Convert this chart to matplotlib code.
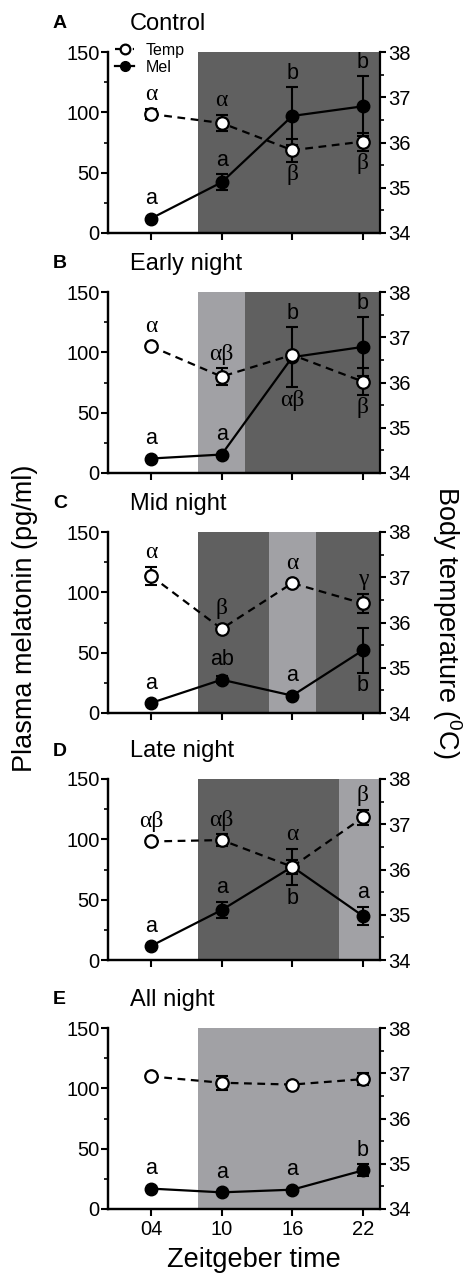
import matplotlib.pyplot as plt
from matplotlib.lines import Line2D

plt.rcParams['font.family'] = ['Liberation Sans', 'DejaVu Sans']
plt.rcParams['mathtext.fontset'] = 'custom'
plt.rcParams['mathtext.rm'] = 'Liberation Sans'

# --- data ---
zt = [4, 10, 16, 22]
zt_labels = ['04', '10', '16', '22']
tags = ['A', 'B', 'C', 'D', 'E']
titles = ['Control', 'Early night', 'Mid night', 'Late night', 'All night']

mel_A = [12, 42, 97, 105]
mel_A_err = [0, 6.6, 24, 25]
temp_A = [36.63, 36.43, 35.83, 36.02]
temp_A_err = [0.12, 0.18, 0.25, 0.2]

mel_B = [12, 15.3, 96, 104.5]
mel_B_err = [0, 0, 25, 24.5]
temp_B = [36.8, 36.13, 36.61, 36.02]
temp_B_err = [0, 0.19, 0, 0.29]

mel_C = [8.3, 27.6, 14.4, 52]
mel_C_err = [0, 3, 0, 18.6]
temp_C = [37.03, 35.86, 36.87, 36.42]
temp_C_err = [0.2, 0, 0, 0.22]

mel_D = [11.6, 41.4, 77.3, 36.5]
mel_D_err = [0, 6.9, 15, 7.6]
temp_D = [36.62, 36.65, 36.06, 37.15]
temp_D_err = [0, 0.13, 0.15, 0.17]

mel_E = [16.9, 13.8, 16, 32]
mel_E_err = [0, 0, 0, 5]
temp_E = [36.93, 36.79, 36.75, 36.87]
temp_E_err = [0, 0.15, 0, 0.13]

# significance letters; side: u/d = above/below own point, U/D = above/below both series
mel_letters = [['a', 'a', 'b', 'b'], ['a', 'a', 'b', 'b'], ['a', 'ab', 'a', 'b'],
               ['a', 'a', 'b', 'a'], ['a', 'a', 'a', 'b']]
mel_sides = [['u', 'u', 'u', 'u'], ['u', 'u', 'u', 'u'], ['u', 'u', 'u', 'd'],
             ['u', 'u', 'd', 'u'], ['u', 'u', 'u', 'u']]
temp_letters = [['α', 'α', 'β', 'β'], ['α', 'αβ', 'αβ', 'β'], ['α', 'β', 'α', 'γ'],
                ['αβ', 'αβ', 'α', 'β'], ['', '', '', '']]
temp_sides = [['u', 'u', 'd', 'd'], ['u', 'u', 'D', 'd'], ['u', 'u', 'u', 'u'],
              ['u', 'u', 'U', 'u'], ['u', 'u', 'u', 'u']]

# shaded phases (start ZT, end ZT, kind)
shade = [[(8, 24, 'dark')],
         [(8, 12, 'light'), (12, 24, 'dark')],
         [(8, 14, 'dark'), (14, 18, 'light'), (18, 24, 'dark')],
         [(8, 20, 'dark'), (20, 24, 'light')],
         [(8, 24, 'light')]]

mel_all = [mel_A, mel_B, mel_C, mel_D, mel_E]
mel_err_all = [mel_A_err, mel_B_err, mel_C_err, mel_D_err, mel_E_err]
temp_all = [temp_A, temp_B, temp_C, temp_D, temp_E]
temp_err_all = [temp_A_err, temp_B_err, temp_C_err, temp_D_err, temp_E_err]

COLORS = {'dark': '#606060', 'light': '#a1a1a5'}
MEL_LIM = (0, 150)
TEMP_LIM = (34, 38)

W, H = 465, 1275
fig = plt.figure(figsize=(W / 100, H / 100), dpi=100)

ax_left, ax_w, ax_h = 108, 272, 181
tops = [52, 292, 532, 779, 1028]
rad_px = 6.0


def t2m(t):
    # temperature -> melatonin axis units
    return (t - TEMP_LIM[0]) / (TEMP_LIM[1] - TEMP_LIM[0]) * (MEL_LIM[1] - MEL_LIM[0])


rad_mel = rad_px * (MEL_LIM[1] - MEL_LIM[0]) / ax_h
rad_temp = rad_px * (TEMP_LIM[1] - TEMP_LIM[0]) / ax_h

for k in range(5):
    top = tops[k]
    ax = fig.add_axes([ax_left / W, 1 - (top + ax_h) / H, ax_w / W, ax_h / H])
    ax2 = ax.twinx()
    mel, mel_err = mel_all[k], mel_err_all[k]
    temp, temp_err = temp_all[k], temp_err_all[k]

    for s0, s1, kind in shade[k]:
        ax.axvspan(s0, s1, color=COLORS[kind], lw=0, zorder=0)

    ax.errorbar(zt, mel, yerr=mel_err, fmt='none', ecolor='black', elinewidth=1.5,
                capsize=4, capthick=1.5, zorder=2)
    ax.plot(zt, mel, '-o', color='black', lw=1.6, ms=9, mec='black', zorder=3)

    ax2.errorbar(zt, temp, yerr=temp_err, fmt='none', ecolor='black', elinewidth=1.5,
                 capsize=4, capthick=1.5, zorder=2)
    ax2.plot(zt, temp, 'o', color='black', ls=(0, (3.5, 2.5)), lw=1.6, ms=9,
             mfc='white', mec='black', mew=1.6, zorder=3)

    ax.set_xlim(0.35, 23.45)
    ax.set_ylim(*MEL_LIM)
    ax2.set_ylim(*TEMP_LIM)

    ax.set_xticks(zt)
    if k == 4:
        ax.set_xticklabels(zt_labels)
    else:
        ax.set_xticklabels([])
    ax.set_yticks([0, 50, 100, 150])
    ax.set_yticks([25, 75, 125], minor=True)
    ax2.set_yticks([34, 35, 36, 37, 38])
    ax2.set_yticks([34.5, 35.5, 36.5, 37.5], minor=True)

    ax.tick_params(axis='both', which='major', direction='out', length=5, width=1.5,
                   labelsize=14.5, pad=1)
    ax.tick_params(axis='x', pad=3)
    ax.tick_params(axis='y', which='minor', direction='out', length=3, width=1.2)
    ax2.tick_params(axis='y', which='major', direction='out', length=4, width=1.5,
                    labelsize=14.5, pad=2)
    ax2.tick_params(axis='y', which='minor', direction='out', length=3, width=1.2)

    for a in (ax, ax2):
        a.spines['top'].set_visible(False)
        for sp in a.spines.values():
            sp.set_linewidth(1.6)
    ax.spines['right'].set_visible(False)

    # letters
    for i in range(4):
        m_hi = mel[i] + max(mel_err[i], rad_mel)
        m_lo = mel[i] - max(mel_err[i], rad_mel)
        t_hi = t2m(temp[i] + max(temp_err[i], rad_temp))
        t_lo = t2m(temp[i] - max(temp_err[i], rad_temp))
        for lab, side, own_hi, own_lo, fam, fs in (
                (mel_letters[k][i], mel_sides[k][i], m_hi, m_lo, 'Liberation Sans', 15.5),
                (temp_letters[k][i], temp_sides[k][i], t_hi, t_lo, 'Liberation Serif', 17)):
            if not lab:
                continue
            if side == 'u':
                y, off, va = own_hi, 2.5, 'bottom'
            elif side == 'd':
                y, off, va = own_lo, -2, 'top'
            elif side == 'U':
                y, off, va = max(m_hi, t_hi), 2.5, 'bottom'
            else:
                y, off, va = min(m_lo, t_lo), -2, 'top'
            ax2.annotate(lab, xy=(zt[i], y), xycoords=ax.transData,
                         xytext=(0, off), textcoords='offset points',
                         ha='center', va=va, fontsize=fs, family=fam, zorder=5)

    # panel tag and title
    ty = 1 - (top - 28) / H
    fig.text(53 / W, ty, tags[k], fontsize=14, fontweight='bold', ha='left', va='center')
    fig.text(130 / W, ty, titles[k], fontsize=17, ha='left', va='center')

    if k == 0:
        handles = [Line2D([], [], color='black', ls=(0, (2.5, 1.5)), lw=1.6, marker='o',
                          ms=7, mfc='white', mec='black', mew=1.6),
                   Line2D([], [], color='black', lw=1.6, marker='o', ms=7)]
        ax2.legend(handles, ['Temp', 'Mel'], loc='upper left', bbox_to_anchor=(0.015, 1.07),
                   frameon=False, fontsize=11.5, handlelength=1.2, handletextpad=0.7,
                   labelspacing=0.15, borderpad=0.2, borderaxespad=0)

fig.text(25 / W, 1 - 618 / H, 'Plasma melatonin (pg/ml)', rotation=90, fontsize=19.5,
         ha='center', va='center')
fig.text(447 / W, 1 - 622 / H, 'Body temperature ($^{0}$C)', rotation=270, fontsize=19.5,
         ha='center', va='center')
fig.text(254 / W, 1 - 1260 / H, 'Zeitgeber time', fontsize=19.5, ha='center', va='center')

fig.savefig('out.png', dpi=100)
